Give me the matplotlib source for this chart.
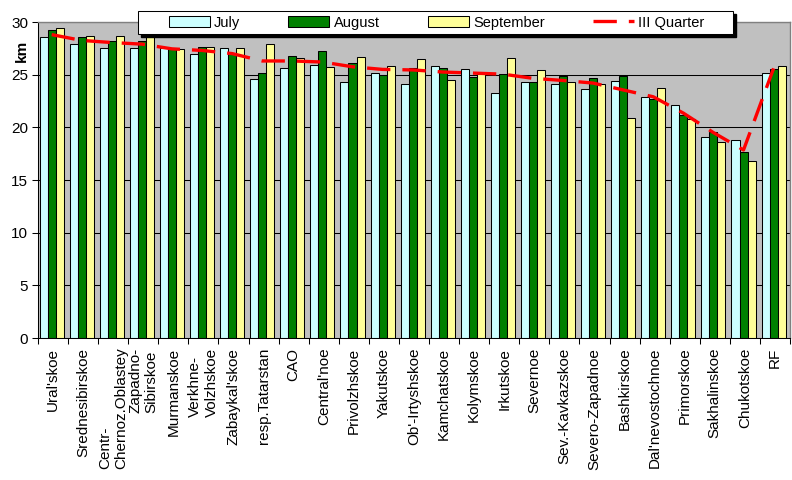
import numpy as np
import matplotlib
matplotlib.use("Agg")
from matplotlib import pyplot as plt
from matplotlib.patches import Rectangle

plt.rcParams['font.family'] = ['Liberation Sans', 'DejaVu Sans']
plt.rcParams['font.size'] = 10

# regions along the x axis
regions = ["Ural'skoe", "Srednesibirskoe", "Centr-\nChernoz.Oblastey", "Zapadno-\nSibirskoe",
           "Murmanskoe", "Verkhne-\nVolzhskoe", "Zabaykal'skoe", "resp.Tatarstan", "CAO",
           "Central'noe", "Privolzhskoe", "Yakutskoe", "Ob'-Irtyshskoe", "Kamchatskoe",
           "Kolymskoe", "Irkutskoe", "Severnoe", "Sev.-Kavkazskoe", "Severo-Zapadnoe",
           "Bashkirskoe", "Dal'nevostochnoe", "Primorskoe", "Sakhalinskoe", "Chukotskoe", "RF"]

# monthly values (km)
july = [28.55, 27.9, 27.5, 27.5, 27.5, 26.95, 27.5, 24.55, 25.6, 25.9, 24.3, 25.2, 24.1,
        25.8, 25.5, 23.3, 24.3, 24.1, 23.6, 24.4, 22.85, 22.1, 19.05, 18.8, 25.15]
august = [29.2, 28.55, 28.15, 28.15, 27.4, 27.6, 26.95, 25.2, 26.75, 27.2, 26.1, 25.0, 25.6,
          25.6, 24.75, 25.05, 24.35, 24.85, 24.65, 24.85, 22.65, 21.15, 19.55, 17.65, 25.5]
september = [29.4, 28.65, 28.65, 28.65, 27.4, 27.6, 27.5, 27.9, 26.55, 25.7, 26.65, 25.8, 26.45,
             24.45, 25.05, 26.55, 25.4, 24.35, 24.1, 20.85, 23.7, 20.75, 18.6, 16.85, 25.8]
quarter = [28.8, 28.25, 28.05, 27.9, 27.45, 27.3, 27.0, 26.3, 26.3, 26.2, 25.75, 25.5, 25.45,
           25.25, 25.15, 25.05, 24.65, 24.45, 24.2, 23.55, 22.9, 21.35, 19.5, 17.85, 25.6]

fig = plt.figure(figsize=(7.92, 4.8), dpi=100)
ax = fig.add_axes([38/792, 1-338/480, 752/792, 316/480])
ax.set_facecolor('#C0C0C0')

x = np.arange(len(regions))
w = 0.267
bar_kw = dict(width=w, edgecolor='black', linewidth=0.75, zorder=2)
b1 = ax.bar(x - w - 0.045, july, color='#CCFFFF', label='July', **bar_kw)
b2 = ax.bar(x - 0.045, august, color='#008000', label='August', **bar_kw)
b3 = ax.bar(x + w - 0.045, september, color='#FFFF99', label='September', **bar_kw)
ln, = ax.plot(x - 0.045, quarter, color='#FF0000', lw=2.4, dashes=(7, 3.6),
              label='III Quarter', zorder=3, solid_capstyle='butt')

ax.set_xlim(-0.5, len(regions) - 0.5)
ax.set_ylim(0, 30)
ax.set_yticks(range(0, 31, 5))
ax.yaxis.grid(True, color='black', linewidth=0.75)
ax.set_axisbelow(True)

# labels at group centres, tick marks between groups
ax.set_xticks(x)
ax.set_xticklabels(regions, rotation=90, va='top', ha='center', multialignment='left',
                   fontsize=11)
ax.set_xticks(np.arange(-0.5, len(regions)), minor=True)
ax.tick_params(axis='x', which='major', length=0, pad=7)
ax.tick_params(axis='x', which='minor', length=4, width=0.75, direction='out')
ax.tick_params(axis='y', length=4, width=0.75, direction='out', pad=3, labelsize=11)

for s in ['left', 'bottom']:
    ax.spines[s].set_color('black')
    ax.spines[s].set_linewidth(0.75)
for s in ['top', 'right']:
    ax.spines[s].set_color('#808080')
    ax.spines[s].set_linewidth(1.0)

fig.text(22/792, 1-51/480, 'km', rotation=90, ha='center', va='center',
         fontweight='bold', fontsize=11)

# legend box with shadow, like the spreadsheet chart
lx0, lx1, ly0, ly1 = 138, 733, 11, 34
shadow = Rectangle((lx0/792 + 3/792, 1-ly1/480 - 3/480), (lx1-lx0)/792, (ly1-ly0)/480,
                   transform=fig.transFigure, facecolor='black', edgecolor='black', zorder=4)
box = Rectangle((lx0/792, 1-ly1/480), (lx1-lx0)/792, (ly1-ly0)/480,
                transform=fig.transFigure, facecolor='white', edgecolor='black',
                linewidth=0.75, zorder=4.1)
fig.patches.extend([shadow, box])
leg = fig.legend(handles=[b1, b2, b3, ln], loc='center', ncol=4, frameon=False,
                 bbox_to_anchor=((lx0+lx1)/2/792 + 1/792, 1-(ly0+ly1)/2/480),
                 handlelength=2.8, handleheight=0.75, handletextpad=0.3,
                 columnspacing=3.3, fontsize=10.5, borderpad=0)
leg.set_zorder(5)

fig.savefig('out.png', dpi=100)
